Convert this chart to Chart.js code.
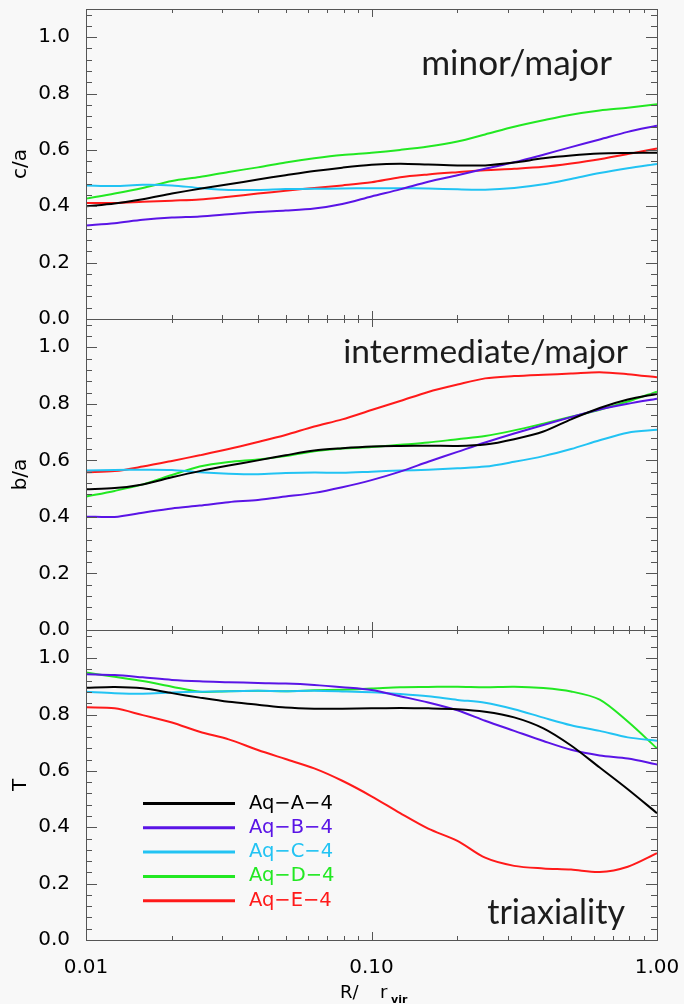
<!DOCTYPE html>
<html>
<head>
<meta charset="utf-8">
<script src="https://cdn.jsdelivr.net/npm/chart.js@4.4.0/dist/chart.umd.min.js"></script>
<style>
  html, body { margin: 0; padding: 0; background: #f8f8f8; }
  #wrap { position: relative; width: 684px; height: 1004px; }
  #wrap canvas { position: absolute; left: 0; top: 0; }
</style>
</head>
<body>
<div id="wrap">
  <canvas id="panelCa" width="684" height="1004"></canvas>
  <canvas id="panelBa" width="684" height="1004"></canvas>
  <canvas id="panelT" width="684" height="1004"></canvas>
</div>
<script>
'use strict';

// ---------------- data ----------------
const radius = [0.01, 0.0126, 0.0158, 0.02, 0.025, 0.0316, 0.04, 0.05, 0.063, 0.079,
                0.1, 0.126, 0.158, 0.2, 0.25, 0.316, 0.4, 0.5, 0.63, 0.79, 1.0];

const haloNames  = ['Aq−A−4', 'Aq−B−4', 'Aq−C−4', 'Aq−D−4', 'Aq−E−4'];
const haloColors = ['#000000', '#5a14e6', '#22c3f3', '#22e822', '#ff1a1a'];

const yTicks = [0, 0.2, 0.4, 0.6, 0.8, 1.0];
const xTicks = [0.01, 0.1, 1];

// c/a  (minor/major)
const caA = [0.400, 0.410, 0.425, 0.445, 0.462, 0.478, 0.495, 0.510, 0.525, 0.537, 0.547, 0.551, 0.548, 0.545, 0.545, 0.555, 0.570, 0.580, 0.587, 0.589, 0.590];
const caB = [0.332, 0.340, 0.352, 0.360, 0.364, 0.372, 0.380, 0.385, 0.392, 0.408, 0.435, 0.460, 0.487, 0.510, 0.533, 0.556, 0.583, 0.610, 0.637, 0.664, 0.686];
const caC = [0.474, 0.472, 0.476, 0.474, 0.465, 0.458, 0.458, 0.461, 0.462, 0.463, 0.464, 0.464, 0.463, 0.460, 0.459, 0.465, 0.478, 0.497, 0.518, 0.535, 0.550];
const caD = [0.427, 0.445, 0.465, 0.490, 0.504, 0.522, 0.538, 0.555, 0.570, 0.582, 0.590, 0.600, 0.612, 0.630, 0.655, 0.682, 0.705, 0.725, 0.740, 0.750, 0.762];
const caE = [0.412, 0.412, 0.416, 0.420, 0.424, 0.434, 0.445, 0.455, 0.465, 0.474, 0.485, 0.503, 0.513, 0.521, 0.528, 0.533, 0.540, 0.552, 0.567, 0.585, 0.605];

// b/a  (intermediate/major)
const baA = [0.498, 0.502, 0.515, 0.540, 0.562, 0.582, 0.600, 0.618, 0.635, 0.643, 0.649, 0.651, 0.652, 0.651, 0.656, 0.675, 0.702, 0.745, 0.785, 0.815, 0.835];
const baB = [0.401, 0.400, 0.415, 0.430, 0.440, 0.452, 0.460, 0.472, 0.485, 0.505, 0.530, 0.560, 0.595, 0.630, 0.663, 0.695, 0.725, 0.753, 0.780, 0.800, 0.818];
const baC = [0.564, 0.566, 0.567, 0.566, 0.558, 0.553, 0.551, 0.555, 0.557, 0.556, 0.560, 0.564, 0.567, 0.572, 0.578, 0.595, 0.615, 0.640, 0.671, 0.698, 0.708];
const baD = [0.472, 0.492, 0.515, 0.548, 0.578, 0.594, 0.603, 0.615, 0.632, 0.642, 0.647, 0.655, 0.663, 0.675, 0.686, 0.706, 0.730, 0.754, 0.779, 0.808, 0.843];
const baE = [0.558, 0.562, 0.578, 0.598, 0.618, 0.640, 0.665, 0.690, 0.720, 0.745, 0.778, 0.810, 0.842, 0.868, 0.890, 0.898, 0.903, 0.907, 0.912, 0.905, 0.894];

// T  (triaxiality)
const tA = [0.895, 0.898, 0.893, 0.876, 0.860, 0.845, 0.835, 0.825, 0.821, 0.821, 0.822, 0.823, 0.822, 0.819, 0.810, 0.790, 0.751, 0.690, 0.612, 0.535, 0.450];
const tB = [0.943, 0.940, 0.932, 0.923, 0.918, 0.915, 0.912, 0.910, 0.905, 0.897, 0.887, 0.865, 0.843, 0.815, 0.778, 0.742, 0.706, 0.675, 0.655, 0.644, 0.623];
const tC = [0.881, 0.876, 0.874, 0.878, 0.881, 0.883, 0.884, 0.883, 0.884, 0.882, 0.879, 0.873, 0.865, 0.852, 0.842, 0.819, 0.789, 0.762, 0.742, 0.719, 0.707];
const tD = [0.949, 0.934, 0.919, 0.899, 0.881, 0.883, 0.884, 0.883, 0.886, 0.888, 0.892, 0.897, 0.898, 0.899, 0.897, 0.899, 0.894, 0.882, 0.853, 0.775, 0.680];
const tE = [0.826, 0.822, 0.798, 0.772, 0.739, 0.712, 0.674, 0.642, 0.609, 0.565, 0.510, 0.450, 0.395, 0.352, 0.292, 0.263, 0.254, 0.250, 0.241, 0.260, 0.308];

// ---------------- ticks inside the frame ----------------
const xMinor = [];
[0.01, 0.1].forEach(d => { for (let k = 1; k <= 9; k++) xMinor.push(+(d * k).toFixed(4)); });
xMinor.push(1);
const yMinor = [];
for (let i = 0; i <= 27; i++) yMinor.push(+(i * 0.04).toFixed(2));

const FRAME = '#555555';

const panelDeco = {
    id: 'panelDeco',
    afterDatasetsDraw(chart, args, opts) {
        const ctx = chart.ctx;
        const a = chart.chartArea;
        const x = chart.scales.x, y = chart.scales.y;
        ctx.save();
        ctx.strokeStyle = FRAME;
        ctx.lineWidth = 1;
        ctx.beginPath();
        xMinor.forEach(v => {
            const px = Math.round(x.getPixelForValue(v)) + 0.5;
            const len = xTicks.includes(v) ? 8 : 4;
            ctx.moveTo(px, a.bottom); ctx.lineTo(px, a.bottom - len);
            ctx.moveTo(px, a.top);    ctx.lineTo(px, a.top + len);
        });
        yMinor.forEach(v => {
            const py = Math.round(y.getPixelForValue(v)) + 0.5;
            const len = yTicks.some(t => Math.abs(t - v) < 1e-6) ? 11 : 6;
            ctx.moveTo(a.left, py);  ctx.lineTo(a.left + len, py);
            ctx.moveTo(a.right, py); ctx.lineTo(a.right - len, py);
        });
        ctx.stroke();
        ctx.strokeRect(a.left + 0.5, a.top + 0.5, a.right - a.left, a.bottom - a.top);

        // panel name
        if (opts.label) {
            const L = opts.label;
            ctx.font = '30px Lato';
            const w = ctx.measureText(L.text).width;
            const size = 30 * L.width / w;
            ctx.font = size.toFixed(1) + 'px Lato';
            ctx.fillStyle = '#1c1c1c';
            ctx.textAlign = 'right';
            ctx.textBaseline = 'alphabetic';
            ctx.fillText(L.text, L.right, L.baseline);
        }

        // legend
        if (opts.legend) {
            ctx.font = '19.5px "DejaVu Sans"';
            ctx.textAlign = 'left';
            ctx.textBaseline = 'middle';
            chart.data.datasets.forEach((ds, i) => {
                const ly = 803.5 + i * 24.3;
                ctx.strokeStyle = ds.borderColor;
                ctx.lineWidth = 3;
                ctx.beginPath();
                ctx.moveTo(143, ly); ctx.lineTo(235, ly);
                ctx.stroke();
                ctx.fillStyle = ds.borderColor;
                ctx.fillText(ds.label, 249, ly);
            });
        }

        // x title R/ r_vir
        if (opts.xTitle) {
            ctx.fillStyle = '#000';
            ctx.textAlign = 'left';
            ctx.textBaseline = 'alphabetic';
            ctx.font = '18px "DejaVu Sans"';
            ctx.fillText('R/', 340, 998);
            ctx.fillText('r', 380, 998);
            ctx.font = 'bold 11px "DejaVu Sans"';
            ctx.fillText('vir', 391, 1003);
        }
        ctx.restore();
    }
};

function makePanel(id, series, yTitle, top, bottom, deco, showX) {
    const datasets = series.map((vals, i) => ({
        label: haloNames[i],
        data: radius.map((r, j) => ({ x: r, y: vals[j] })),
        borderColor: haloColors[i],
        borderWidth: 2,
        pointRadius: 0,
        tension: 0.3,
        fill: false
    }));
    const xHeight = showX ? 1004 - bottom : 0;
    return new Chart(document.getElementById(id), {
        type: 'line',
        data: { datasets: datasets },
        options: {
            responsive: false,
            animation: false,
            layout: { padding: { left: 0, right: 27, top: top, bottom: 1004 - bottom - xHeight } },
            plugins: {
                legend: { display: false },
                tooltip: { enabled: false },
                panelDeco: deco
            },
            scales: {
                x: {
                    type: 'logarithmic',
                    min: 0.01, max: 1,
                    grid: { display: false },
                    border: { display: false },
                    afterFit: s => { s.height = xHeight; s.paddingLeft = 0; s.paddingRight = 0; },
                    afterBuildTicks: s => { s.ticks = xTicks.map(v => ({ value: v })); },
                    ticks: {
                        display: showX,
                        autoSkip: false,
                        maxRotation: 0,
                        padding: 8,
                        color: '#000',
                        font: { family: 'DejaVu Sans', size: 20 },
                        callback: v => Number(v).toFixed(2)
                    }
                },
                y: {
                    min: 0, max: 1.1,
                    grid: { display: false },
                    border: { display: false },
                    afterFit: s => { s.width = 86; s.paddingTop = 0; s.paddingBottom = 0; },
                    afterBuildTicks: s => { s.ticks = yTicks.map(v => ({ value: v })); },
                    ticks: {
                        autoSkip: false,
                        padding: 8,
                        color: '#000',
                        font: { family: 'DejaVu Sans', size: 20 },
                        callback: v => Number(v).toFixed(1)
                    },
                    title: {
                        display: true,
                        text: yTitle,
                        color: '#000',
                        padding: { top: 9, bottom: 0 },
                        font: { family: 'DejaVu Sans', size: 20 }
                    }
                }
            }
        },
        plugins: [panelDeco]
    });
}

makePanel('panelCa', [caA, caB, caC, caD, caE], 'c/a', 9, 319,
    { label: { text: 'minor/major', right: 612, baseline: 75, width: 191 } }, false);
makePanel('panelBa', [baA, baB, baC, baD, baE], 'b/a', 319, 630,
    { label: { text: 'intermediate/major', right: 628, baseline: 363, width: 285 } }, false);
makePanel('panelT', [tA, tB, tC, tD, tE], 'T', 630, 940,
    { label: { text: 'triaxiality', right: 625, baseline: 924, width: 138 }, legend: true, xTitle: true }, true);
</script>
</body>
</html>
